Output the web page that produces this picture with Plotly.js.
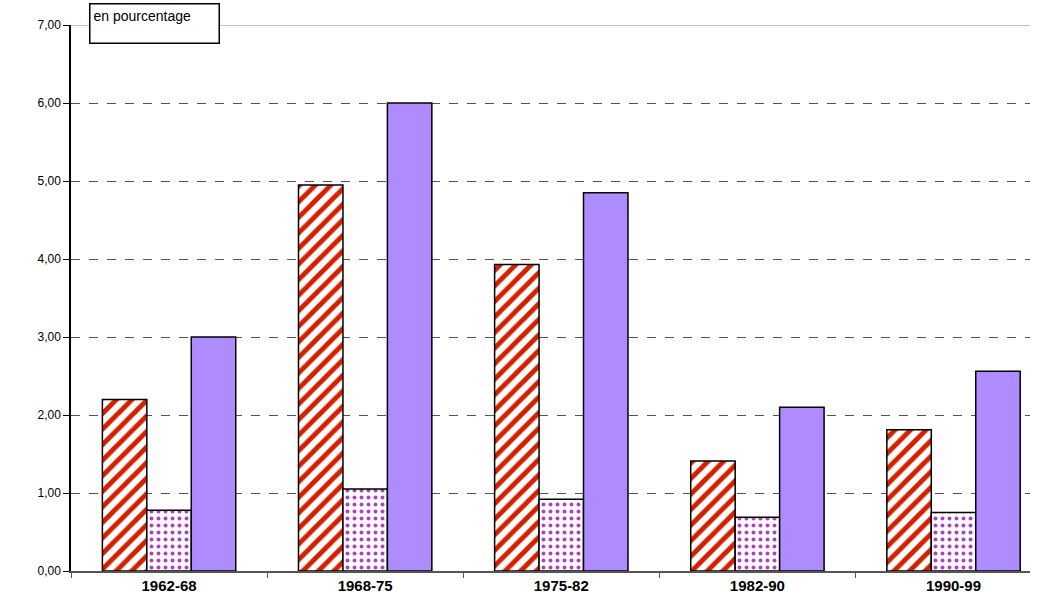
<!DOCTYPE html><html><head><script src="https://cdn.plot.ly/plotly-3.0.1.min.js"></script></head><body style="margin:0"><div id="c" style="width:1041px;height:609px"></div><script>
const categories=['1962-68','1968-75','1975-82','1982-90','1990-99'];
const seriesA=[2.2,4.95,3.93,1.41,1.81];
const seriesB=[0.78,1.05,0.92,0.69,0.75];
const seriesC=[3.0,6.0,4.85,2.1,2.56];
const line={color:'black',width:1.5};
const data=[
{type:'bar',x:categories,y:seriesA,marker:{color:'white',line,pattern:{shape:'/',fgcolor:'#d42000',bgcolor:'white',size:11,solidity:0.45}}},
{type:'bar',x:categories,y:seriesB,marker:{color:'white',line,pattern:{shape:'.',fgcolor:'#b040c0',bgcolor:'white',size:7,solidity:0.25}}},
{type:'bar',x:categories,y:seriesC,marker:{color:'#ae8cff',line}}
];
const layout={width:1041,height:609,margin:{l:71,r:11,t:25,b:38},showlegend:false,bargap:0.32,bargroupgap:0,
plot_bgcolor:'white',paper_bgcolor:'white',separators:',.',
font:{family:'Liberation Sans, Arial',color:'black'},
xaxis:{range:[-0.5,4.39],tickfont:{size:15,family:'Liberation Sans, Arial'},tickprefix:'<b>',ticksuffix:'</b>',showline:true,linecolor:'#555',linewidth:1.5,ticks:'outside',tickson:'boundaries',ticklen:5,tickcolor:'#555'},
yaxis:{range:[0,7],dtick:1,tickformat:'.2f',tickfont:{size:12},showline:true,linecolor:'black',linewidth:1.5,ticks:'outside',ticklen:6,tickcolor:'black',gridcolor:'#555',griddash:'dash',gridwidth:1,zeroline:false},
shapes:[{type:'line',xref:'paper',yref:'y',x0:0,x1:1,y0:7,y1:7,line:{color:'#888',width:1}}],
annotations:[{xref:'paper',yref:'paper',x:0.0185,y:1.04,xanchor:'left',yanchor:'top',text:'en pourcentage',showarrow:false,font:{size:14},bgcolor:'white',bordercolor:'black',borderwidth:1.5,borderpad:3,width:122,height:32,align:'left',valign:'top'}]
};
Plotly.newPlot('c',data,layout,{displayModeBar:false});
</script></body></html>
